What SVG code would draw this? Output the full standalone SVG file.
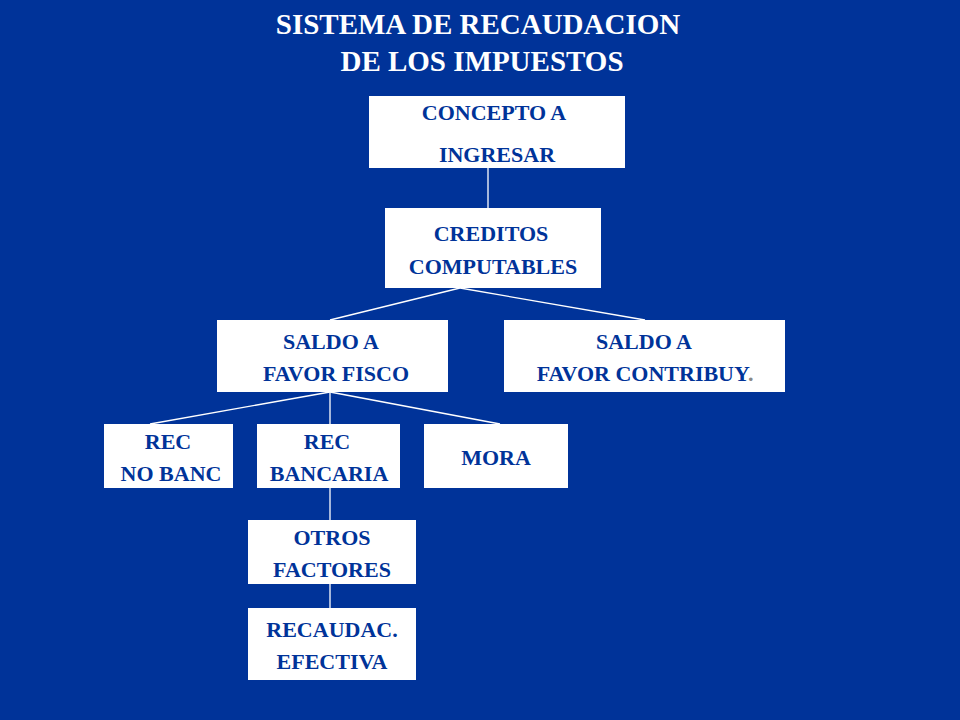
<svg xmlns="http://www.w3.org/2000/svg" width="960" height="720" viewBox="0 0 960 720">
<style>
.b{fill:#fff}
.t{font-family:"Liberation Serif",serif;font-weight:bold;font-size:22px;fill:#003399;text-anchor:middle}
.h{font-family:"Liberation Serif",serif;font-weight:bold;font-size:29px;fill:#fff;text-anchor:middle}
.c{stroke:#fff;stroke-width:1.3;fill:none}
</style>
<rect width="960" height="720" fill="#003399"/>
<text class="h" x="478" y="34">SISTEMA DE RECAUDACION</text>
<text class="h" x="482" y="71">DE LOS IMPUESTOS</text>
<g id="connectors" class="c">
<line x1="488" y1="168" x2="488" y2="208"/>
<line x1="460" y1="288" x2="330" y2="320"/>
<line x1="460" y1="288" x2="645" y2="320"/>
<line x1="330" y1="392" x2="150" y2="424"/>
<line x1="330" y1="392" x2="330" y2="424"/>
<line x1="330" y1="392" x2="500" y2="424"/>
<line x1="330" y1="488" x2="330" y2="520"/>
<line x1="330" y1="584" x2="330" y2="608"/>
</g>
<g id="n1"><rect class="b" x="369" y="96" width="256" height="72"/><text class="t" x="494" y="120">CONCEPTO A</text><text class="t" x="497" y="162">INGRESAR</text></g>
<g id="n2"><rect class="b" x="385" y="208" width="216" height="80"/><text class="t" x="491" y="241">CREDITOS</text><text class="t" x="493" y="274">COMPUTABLES</text></g>
<g id="n3"><rect class="b" x="217" y="320" width="231" height="72"/><text class="t" x="331" y="349">SALDO A</text><text class="t" x="336" y="381">FAVOR FISCO</text></g>
<g id="n4"><rect class="b" x="504" y="320" width="281" height="72"/><text class="t" x="644" y="349">SALDO A</text><text class="t" x="645" y="381">FAVOR CONTRIBUY<tspan fill="#888">.</tspan></text></g>
<g id="n5"><rect class="b" x="104" y="424" width="129" height="64"/><text class="t" x="168" y="449">REC</text><text class="t" x="171" y="481">NO BANC</text></g>
<g id="n6"><rect class="b" x="257" y="424" width="143" height="64"/><text class="t" x="327" y="449">REC</text><text class="t" x="329" y="481">BANCARIA</text></g>
<g id="n7"><rect class="b" x="424" y="424" width="144" height="64"/><text class="t" x="496" y="465">MORA</text></g>
<g id="n8"><rect class="b" x="248" y="520" width="168" height="64"/><text class="t" x="332" y="545">OTROS</text><text class="t" x="332" y="577">FACTORES</text></g>
<g id="n9"><rect class="b" x="248" y="608" width="168" height="72"/><text class="t" x="332" y="637">RECAUDAC.</text><text class="t" x="332" y="669">EFECTIVA</text></g>
</svg>
